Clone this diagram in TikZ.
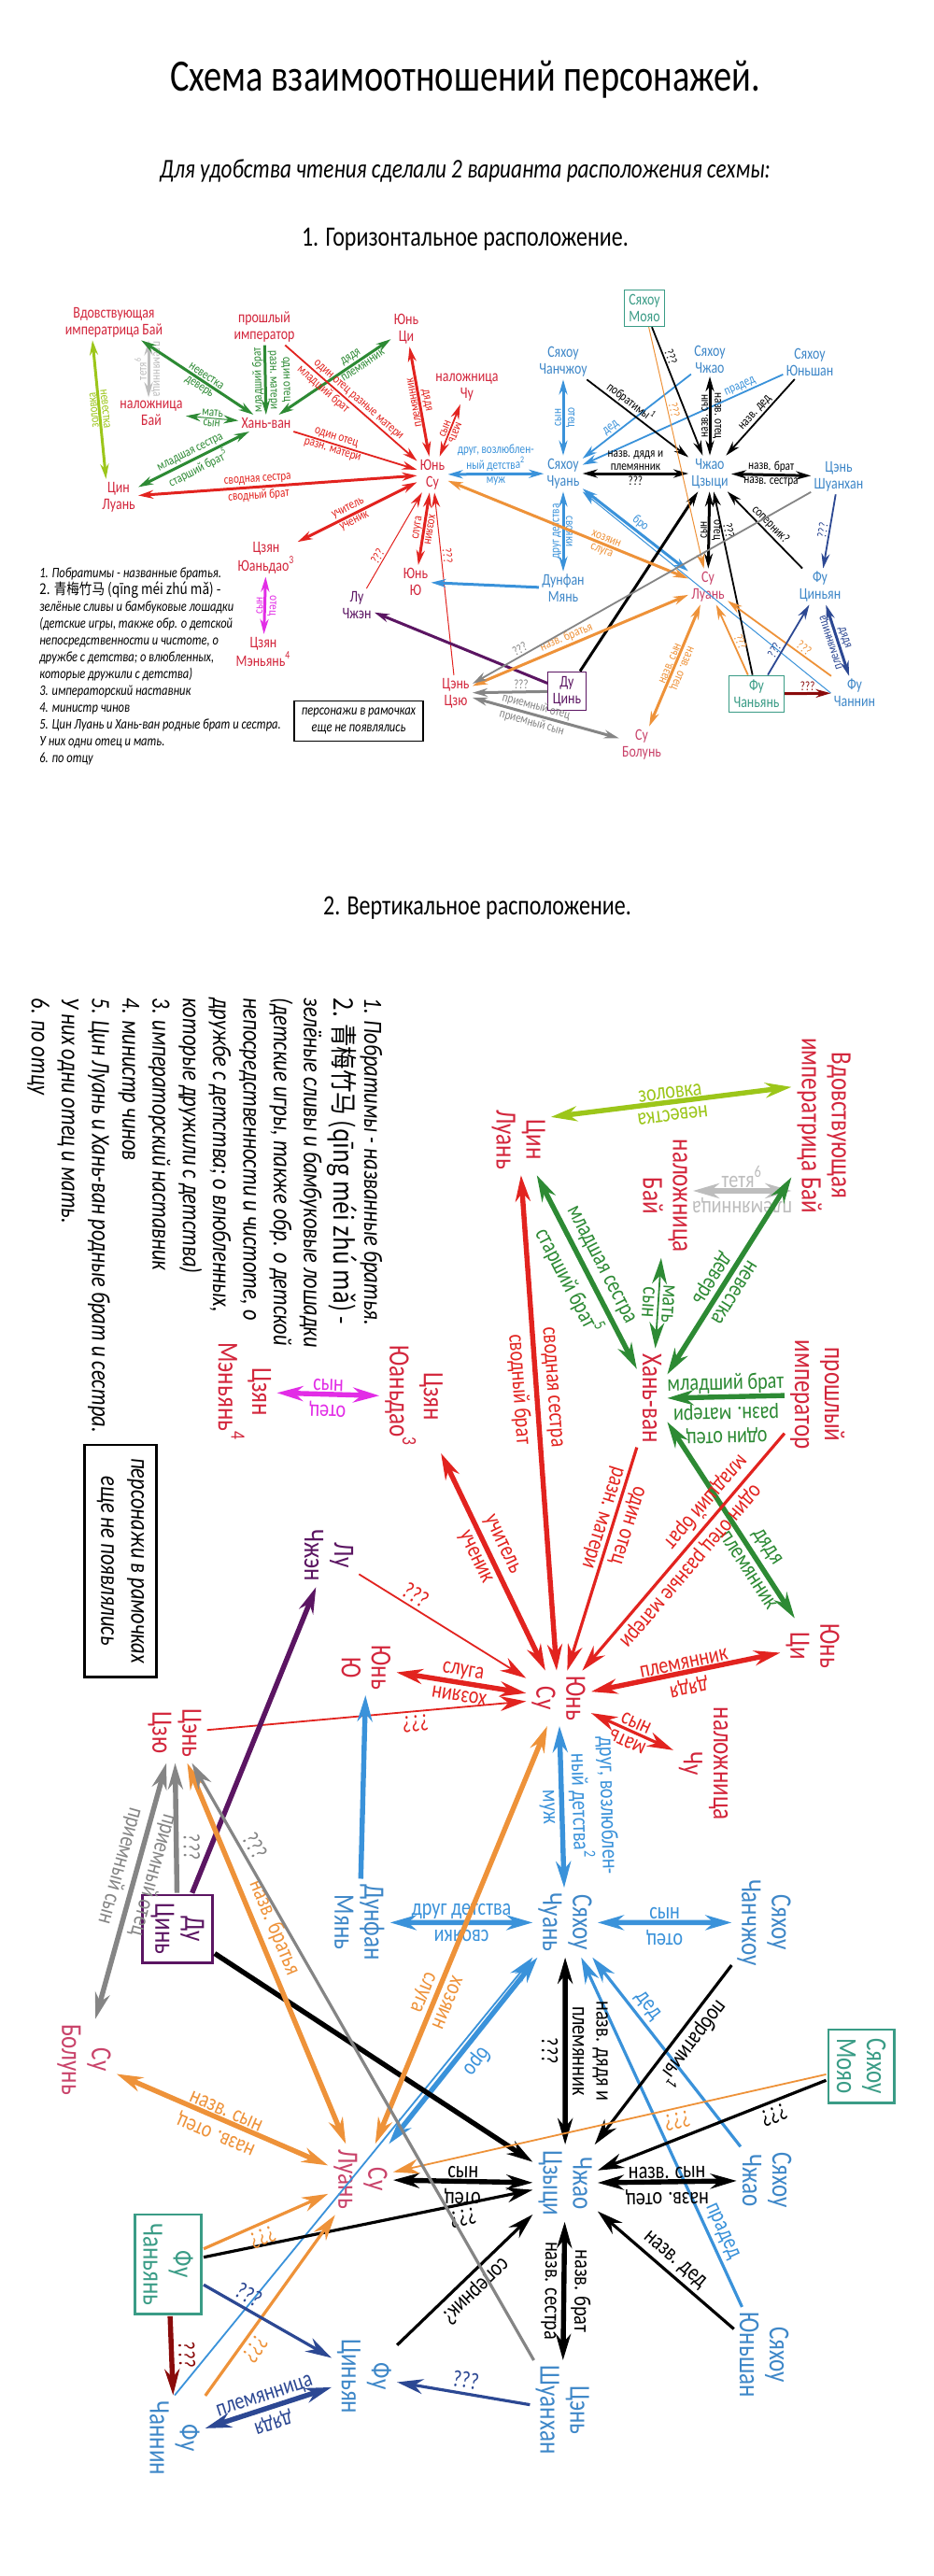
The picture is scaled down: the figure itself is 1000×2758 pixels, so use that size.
\documentclass[tikz,border=0pt]{standalone}
\usepackage{fontspec}
\setmainfont{Carlito}[FakeStretch=0.8]
\newfontfamily\cjk{Noto Sans CJK SC}[FakeStretch=0.85]
\usetikzlibrary{arrows.meta}

\definecolor{nred}{HTML}{D3263C}
\definecolor{ared}{HTML}{E2231F}
\definecolor{npink}{HTML}{C9436A}
\definecolor{nblu}{HTML}{3E87C8}
\definecolor{ablu}{HTML}{3A92DA}
\definecolor{dblu}{HTML}{2C4893}
\definecolor{grn}{HTML}{2D8A34}
\definecolor{lgrn}{HTML}{9CC61A}
\definecolor{lgry}{HTML}{BDBDBD}
\definecolor{gry}{HTML}{858585}
\definecolor{orng}{HTML}{EE9239}
\definecolor{mag}{HTML}{E22DE6}
\definecolor{purp}{HTML}{5B1562}
\definecolor{cteal}{HTML}{3A9C86}
\definecolor{dred}{HTML}{8A0B0B}

\newcommand\namefont{\fontsize{8.7}{8.9}\selectfont}
\newcommand\labfont{\fontsize{7}{7.1}\selectfont}
\newcommand\notefont{\fontsize{7.8}{9}\selectfont\itshape}

\tikzset{
  nm/.style={font=\namefont, align=center, inner sep=1.5pt, text=#1},
  bx/.style={draw=#1, line width=\lwbox, inner sep=2.5pt},
  lb/.style={font=\labfont, text=#1, sloped, allow upside down, align=center, inner sep=0.8pt, pos=.5},
  thk/.style={draw=#1, line width=\lwA},
  med/.style={draw=#1, line width=\lwB},
  thn/.style={draw=#1, line width=\lwC},
  notes/.style={font=\notefont, align=left, inner sep=0pt},
}

\newcommand\scheme[1]{%
  \node[nm=nred] (bai) at (#1bai) {Вдовствующая\\императрица Бай};
  \node[nm=nred] (nbai) at (#1nbai) {наложница\\Бай};
  \node[nm=nred] (qin) at (#1qin) {Цин\\Луань};
  \node[nm=nred] (imp) at (#1imp) {прошлый\\император};
  \node[nm=nred] (han) at (#1han) {Хань-ван};
  \node[nm=nred] (yqi) at (#1yqi) {Юнь\\Ци};
  \node[nm=nred] (ysu) at (#1ysu) {Юнь\\Су};
  \node[nm=nred] (chu) at (#1chu) {наложница\\Чу};
  \node[nm=nred] (yuan) at (#1yuan) {Цзян\\Юаньдао\textsuperscript{3}};
  \node[nm=nred] (meng) at (#1meng) {Цзян\\Мэньянь\textsuperscript{4}};
  \node[nm=nred] (yyu) at (#1yyu) {Юнь\\Ю};
  \node[nm=purp] (luz) at (#1luz) {Лу\\Чжэн};
  \node[nm=nred] (cjiu) at (#1cjiu) {Цэнь\\Цзю};
  \node[nm=purp, bx=purp] (duq) at (#1duq) {Ду\\Цинь};
  \node[nm=npink] (bol) at (#1bol) {Су\\Болунь};
  \node[nm=nblu] (chuan) at (#1chuan) {Сяхоу\\Чуань};
  \node[nm=nblu] (czh) at (#1czh) {Сяхоу\\Чанчжоу};
  \node[nm=cteal, bx=cteal] (moy) at (#1moy) {Сяхоу\\Мояо};
  \node[nm=nblu] (xzh) at (#1xzh) {Сяхоу\\Чжао};
  \node[nm=nblu] (ysh) at (#1ysh) {Сяхоу\\Юньшан};
  \node[nm=nblu] (zq) at (#1zq) {Чжао\\Цзыци};
  \node[nm=nblu] (shh) at (#1shh) {Цэнь\\Шуанхан};
  \node[nm=nblu] (dfm) at (#1dfm) {Дунфан\\Мянь};
  \node[nm=npink] (slu) at (#1slu) {Су\\Луань};
  \node[nm=nblu] (fqy) at (#1fqy) {Фу\\Циньян};
  \node[nm=cteal, bx=cteal] (fcy) at (#1fcy) {Фу\\Чаньянь};
  \node[nm=nblu] (fcn) at (#1fcn) {Фу\\Чаннин};
  \node[notes, anchor=north west] (notes) at (#1nt) {1. Побратимы - названные братья.\\
    {\cjk\upshape\fontsize{8}{9}\selectfont 2. 青梅竹马 (qīng méi zhú mǎ) -}\\
    зелёные сливы и бамбуковые лошадки\\
    (детские игры, также обр. о детской\\
    непосредственности и чистоте, о\\
    дружбе с детства; о влюбленных,\\
    которые дружили с детства)\\
    3. императорский наставник\\
    4. министр чинов\\
    5. Цин Луань и Хань-ван родные брат и сестра.\\
    У них одни отец и мать.\\
    6. по отцу};
  \node[notes, draw=black, line width=\lwbox, align=center, inner sep=3pt, minimum width=69pt, minimum height=21.5pt] (legend) at (#1lg) {персонажи в рамочках\\еще не появлялись};
  % Хань-ван
  \draw[thk=lgrn,<->] (bai.220) -- (qin.125) node[lb=lgrn,above]{невестка};
  \path (qin.125) -- (bai.220) node[lb=lgrn,above]{золовка};
  \draw[thk=lgry,<->] (nbai.100 |- bai.south) -- (nbai.100) node[lb=lgry,above]{племянница};
  \path (nbai.100) -- (nbai.100 |- bai.south) node[lb=lgry,above]{тетя\textsuperscript{6}};
  \draw[thk=grn,<->] (bai) -- (han) node[lb=grn,above,pos=.55]{невестка} node[lb=grn,below,pos=.55]{деверь};
  \draw[thn=grn,<->] (nbai) -- (han) node[lb=grn,above]{мать} node[lb=grn,below]{сын};
  \draw[thk=grn,<->] (qin) -- (han) node[lb=grn,above]{младшая сестра} node[lb=grn,below]{старший брат\textsuperscript{5}};
  \draw[thk=grn,->] (imp) -- (han) node[lb=grn,above]{один отец\\разн. матери};
  \path (han) -- (imp) node[lb=grn,above]{младший брат};
  \draw[thk=grn,<->] (han) -- (yqi) node[lb=grn,above,pos=.68]{дядя} node[lb=grn,below,pos=.72]{племянник};
  % Юнь Су
  \draw[med=ared,->] (imp) -- (ysu) node[lb=ared,above,pos=.52]{один отец разные матери} node[lb=ared,below,pos=.33]{младший брат};
  \draw[med=ared,->] (han) -- (ysu) node[lb=ared,above,pos=.33]{один отец} node[lb=ared,below,pos=.33]{разн. матери};
  \draw[thk=ared,<->] (qin) -- (ysu) node[lb=ared,above,pos=.43]{сводная сестра} node[lb=ared,below,pos=.43]{сводный брат};
  \draw[thk=ared,<->] (yqi) -- (ysu) node[lb=ared,above]{дядя};
  \path (ysu) -- (yqi) node[lb=ared,above]{племянник};
  \draw[med=ared,<->] (chu) -- (ysu) node[lb=ared,above]{мать};
  \path (ysu) -- (chu) node[lb=ared,above]{сын};
  \draw[thk=ared,<->] (yuan) -- (ysu) node[lb=ared,above,pos=.45]{учитель} node[lb=ared,below,pos=.45]{ученик};
  \draw[thk=ared,<->] (ysu) -- (yyu) node[lb=ared,above]{хозяин};
  \path (yyu) -- (ysu) node[lb=ared,above]{слуга};
  \draw[thn=ared,->] (luz) -- (ysu) node[lb=ared,above,pos=.3]{???};
  \draw[thn=ared,<-] (ysu) -- (cjiu) node[lb=ared,above,pos=.35]{???};
  \draw[thk=ablu,<->] (ysu) -- (chuan) node[lb=ablu,above]{друг, возлюблен-\\ный детства\textsuperscript{2}} node[lb=ablu,below]{муж};
  \draw[thk=mag,<->] (yuan) -- (meng) node[lb=mag,above]{отец};
  \path (meng) -- (yuan) node[lb=mag,above]{сын};
  \draw[thk=purp,<-] (luz) -- (duq);
  % Сяхоу
  \draw[thk=ablu,<->] (czh) -- (chuan) node[lb=ablu,above]{отец};
  \path (chuan) -- (czh) node[lb=ablu,above]{сын};
  \draw[thk=ablu,<->] (chuan) -- (dfm) node[lb=ablu,above]{свояки};
  \path (dfm) -- (chuan) node[lb=ablu,above]{друг детства};
  \draw[thk=ablu,->] (dfm) -- (yyu);
  \draw[med=ablu,<-] (chuan) -- (xzh) node[lb=ablu,above,pos=.3]{дед};
  \draw[med=ablu,<-] (chuan) -- (ysh) node[lb=ablu,above,pos=.8]{прадед};
  \draw[thk=ablu,<->] (chuan) -- (slu) node[lb=ablu,above]{бро};
  \draw[thn=ablu,->] (fcn.west) -- (chuan.south east);
  % Чжао Цзыци
  \draw[med=black,->] (czh) -- (zq) node[lb=black,above,pos=.38]{побратимы\textsuperscript{1}};
  \draw[med=black,->] (moy) -- (zq) node[lb=black,above,pos=.25]{???};
  \draw[thk=black,<->] (xzh) -- (zq) node[lb=black,above]{назв. отец};
  \path (zq) -- (xzh) node[lb=black,above]{назв. сын};
  \draw[med=black,<-] (zq) -- (ysh) node[lb=black,above]{назв. дед};
  \draw[thk=black,<->] (chuan) -- (zq) node[lb=black,above]{назв. дядя и\\племянник} node[lb=black,below]{???};
  \draw[thk=black,<->] (zq) -- (shh) node[lb=black,above]{назв. брат} node[lb=black,below]{назв. сестра};
  \draw[thk=black,<->] (zq) -- (slu) node[lb=black,above]{отец};
  \path (slu) -- (zq) node[lb=black,above]{сын};
  \draw[med=black,<-] (zq) -- (fqy) node[lb=black,above]{соперник?};
  \draw[med=black,<-] (zq) -- (fcy) node[lb=black,above,pos=.22]{???};
  \draw[thk=black,->] (duq) -- (zq);
  % Су Луань
  \draw[thn=orng,->] (moy) -- (slu) node[lb=orng,above,pos=.35]{???};
  \draw[thk=orng,<->] (ysu) -- (slu) node[lb=orng,above,pos=.65]{хозяин} node[lb=orng,below,pos=.65]{слуга};
  \draw[thk=orng,<->] (cjiu) -- (slu) node[lb=orng,above,pos=.45]{назв. братья};
  \draw[thk=orng,<->] (slu) -- (bol) node[lb=orng,above]{назв. отец};
  \path (bol) -- (slu) node[lb=orng,above]{назв. сын};
  \draw[med=orng,<-] (slu) -- (fcy) node[lb=orng,above,pos=.57]{???};
  \draw[med=orng,<-] (slu) -- (fcn) node[lb=orng,above,pos=.7]{???};
  % Цэнь Цзю
  \draw[med=gry,<-] (cjiu) -- (shh) node[lb=gry,above,pos=.15]{???};
  \draw[thk=gry,<-] (cjiu) -- (duq) node[lb=gry,above,pos=.65]{???};
  \draw[thk=gry,<->] (cjiu) -- (bol) node[lb=gry,above,pos=.42]{приемный отец} node[lb=gry,below,pos=.42]{приемный сын};
  % Фу
  \draw[med=dblu,<-] (fqy) -- (shh) node[lb=dblu,above]{???};
  \draw[med=dblu,->] (fcy) -- (fqy) node[lb=dblu,above,pos=.3]{???};
  \draw[thk=dblu,<->] (fqy) -- (fcn) node[lb=dblu,above]{дядя};
  \path (fcn) -- (fqy) node[lb=dblu,above]{племянница};
  \draw[thk=dred,->] (fcy) -- (fcn) node[lb=dred,above]{???};
}

\begin{document}
\begin{tikzpicture}[x=0.5pt, y=-0.5pt]
\fill[white] (0,0) rectangle (1000,2758);
\useasboundingbox (0,0) rectangle (1000,2758);

\node[font=\fontsize{24}{24}\selectfont] (title) at (498,85) {Схема взаимоотношений персонажей.};
\node[font=\fontsize{14.5}{14.5}\selectfont\itshape] (sub) at (498,183) {Для удобства чтения сделали 2 варианта расположения сехмы:};
\node[font=\fontsize{15}{15}\selectfont] (head1) at (498,256) {1. Горизонтальное расположение.};
\node[font=\fontsize{15}{15}\selectfont] (head2) at (511,972) {2. Вертикальное расположение.};

\foreach \nm/\px/\py in {bai/122/345, nbai/162/442, qin/127/532, imp/283/350, han/285/453,
    yqi/435/352, ysu/463/508, chu/500/415, yuan/285/597, meng/282/698, yyu/445/623,
    luz/382/648, cjiu/488/742, duq/607/740, bol/687/797, chuan/603/507, czh/603/387,
    moy/690/330, xzh/760/385, ysh/867/388, zq/760/507, shh/898/510, dfm/603/630,
    slu/758/628, fqy/878/628, fcy/810/743, fcn/915/742, nt/42/607, lg/384/772}
  \coordinate (t\nm) at (\px,\py);
\foreach \nm/\px/\py in {bai/882/1205, nbai/712/1280, qin/555/1220, imp/875/1493, han/698/1497,
    yqi/870/1762, ysu/598/1818, chu/753/1888, yuan/443/1495, meng/262/1490, yyu/392/1785,
    luz/352/1665, cjiu/187/1855, duq/190/2065, bol/90/2205, chuan/605/2058, czh/818/2058,
    moy/922/2212, xzh/821/2334, ysh/818/2521, zq/605/2337, shh/602/2580, dfm/385/2058,
    slu/386/2333, fqy/390/2544, fcy/180/2424, fcn/187/2610, nt/410/1068, lg/129/1671}
  \coordinate (b\nm) at (\px,\py);

\def\lwA{1.5pt}\def\lwB{0.9pt}\def\lwC{0.5pt}\def\lwbox{0.6pt}
\def\hlen{8pt}\def\hwid{4.5pt}
\begin{scope}[>={Stealth[length=\hlen,width=\hwid]}]
\scheme{t}
\end{scope}

\def\lwA{2.7pt}\def\lwB{1.6pt}\def\lwC{0.9pt}\def\lwbox{1.3pt}
\def\hlen{14pt}\def\hwid{8pt}
\begin{scope}[rotate=-90, scale=1.8, transform shape, >={Stealth[length=\hlen,width=\hwid]}]
\scheme{b}
\end{scope}
\end{tikzpicture}
\end{document}
